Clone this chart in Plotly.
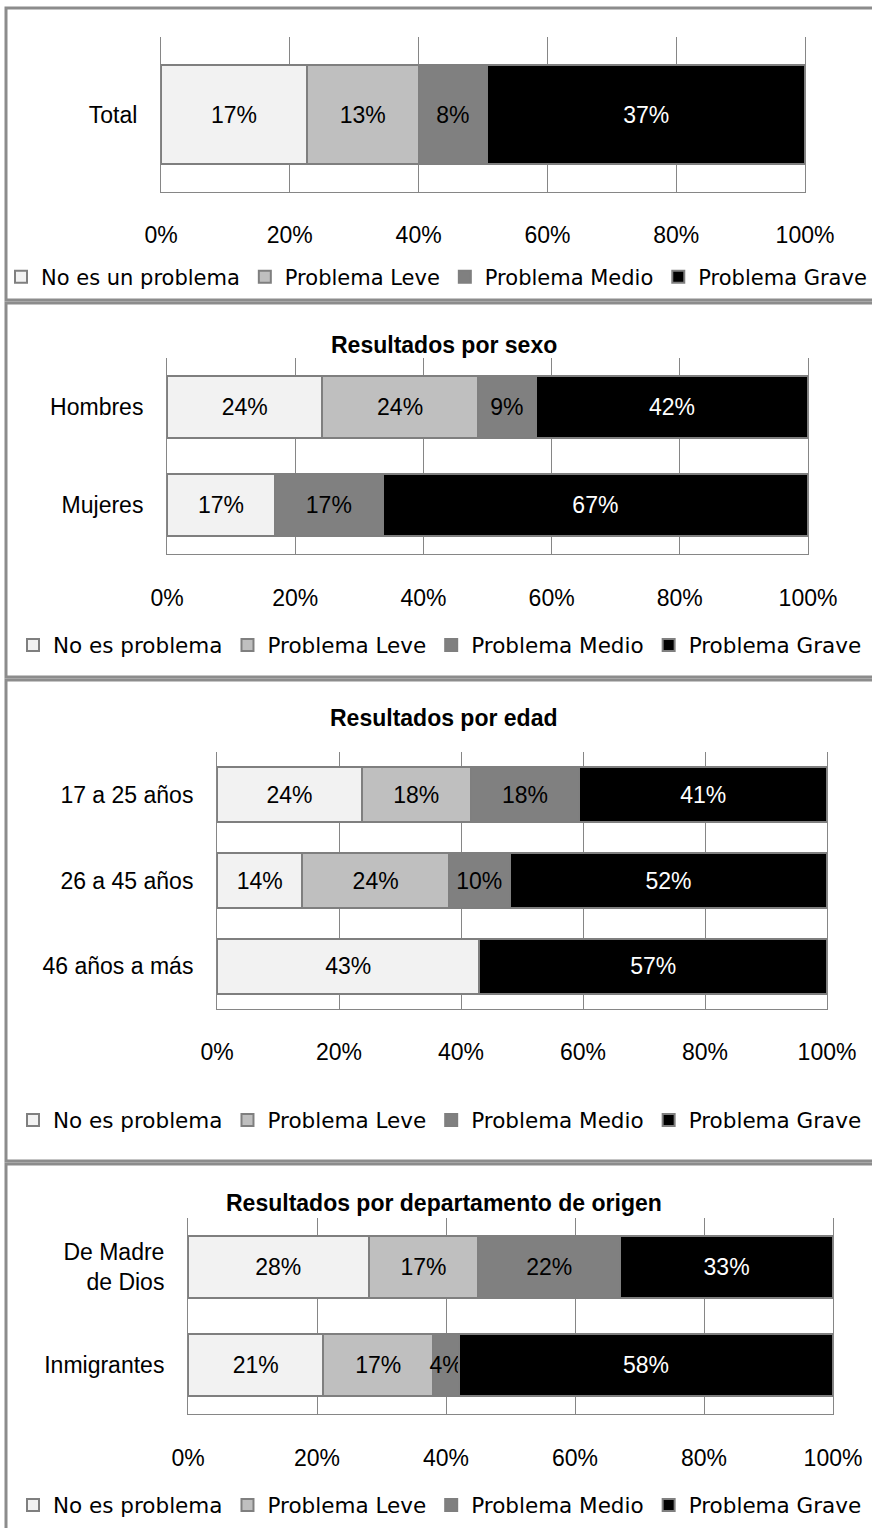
import plotly.graph_objects as go

# data
series = ["No es problema", "Problema Leve", "Problema Medio", "Problema Grave"]
series_total = ["No es un problema", "Problema Leve", "Problema Medio", "Problema Grave"]
colors = ["#f2f2f2", "#bfbfbf", "#808080", "#000000"]
text_colors = ["#000000", "#000000", "#000000", "#ffffff"]

total_cats = ["Total"]
total_vals = [[17], [13], [8], [37]]

sexo_cats = ["Hombres", "Mujeres"]
sexo_vals = [[24, 17], [24, 0], [9, 17], [42, 67]]

edad_cats = ["17 a 25 años", "26 a 45 años", "46 años a más"]
edad_vals = [[24, 14, 43], [18, 24, 0], [18, 10, 0], [41, 52, 57]]

origen_cats = ["De Madre<br>de Dios", "Inmigrantes"]
origen_vals = [[28, 21], [17, 17], [22, 4], [33, 58]]

titles = [None, "Resultados por sexo", "Resultados por edad",
          "Resultados por departamento de origen"]
x_ticks = [0, 20, 40, 60, 80, 100]
x_ticktext = ["0%", "20%", "40%", "60%", "80%", "100%"]

W, H = 872, 1528
FONT = "Liberation Sans, Arial, sans-serif"
LFONT = "DejaVu Sans, sans-serif"
GRID = "#868686"


def fx(x):
    return x / W


def fy(y):
    return 1 - y / H


# panel layout in pixels
panels = [
    dict(cats=total_cats, vals=total_vals, names=series_total,
         x0=161, x1=805, top=37, bot=192, tick_len=22, leg_x=12, leg_y=277,
         leg_size=21, title_y=None, box=(8, 300)),
    dict(cats=sexo_cats, vals=sexo_vals, names=series,
         x0=167, x1=808, top=358, bot=554, tick_len=23, leg_x=13, leg_y=645,
         leg_size=21.5, title_y=345, box=(303, 677)),
    dict(cats=edad_cats, vals=edad_vals, names=series,
         x0=217, x1=827, top=752, bot=1009, tick_len=22, leg_x=13, leg_y=1120,
         leg_size=21.5, title_y=718, box=(680, 1161)),
    dict(cats=origen_cats, vals=origen_vals, names=series,
         x0=188, x1=833, top=1218, bot=1414, tick_len=23, leg_x=13, leg_y=1505,
         leg_size=21.5, title_y=1203, box=(1164, 1545)),
]

fig = go.Figure()
layout = {}
shapes = []
annotations = []

for i, p in enumerate(panels, start=1):
    sfx = "" if i == 1 else str(i)
    leg = "legend" + sfx
    for k in range(4):
        vals = p["vals"][k]
        fig.add_trace(go.Bar(
            y=p["cats"], x=vals, orientation="h",
            name=p["names"][k],
            marker=dict(color=colors[k], line=dict(color="#7f7f7f", width=2)),
            text=[f"{v}%" if v > 0 else "" for v in vals],
            textposition="inside", insidetextanchor="middle", textangle=0,
            textfont=dict(family=FONT, size=23, color=text_colors[k]),
            width=0.64,
            xaxis="x" + sfx, yaxis="y" + sfx, legend=leg,
            hoverinfo="skip",
        ))

    layout["xaxis" + sfx] = dict(
        domain=[fx(p["x0"]), fx(p["x1"])], anchor="y" + sfx,
        range=[0, 100], tickmode="array", tickvals=x_ticks, ticktext=x_ticktext,
        showgrid=True, gridcolor=GRID, gridwidth=1, zeroline=False,
        showline=True, linecolor=GRID, linewidth=1,
        ticks="outside", ticklen=p["tick_len"], tickcolor="rgba(0,0,0,0)",
        tickfont=dict(family=FONT, size=23, color="#000000"),
        fixedrange=True, automargin=False,
    )
    layout["yaxis" + sfx] = dict(
        domain=[fy(p["bot"]), fy(p["top"])], anchor="x" + sfx,
        autorange="reversed", showgrid=False, zeroline=False,
        showline=True, mirror=True, linecolor=GRID, linewidth=1,
        ticks="outside", ticklen=18, tickcolor="rgba(0,0,0,0)",
        tickfont=dict(family=FONT, size=23, color="#000000"),
        fixedrange=True, automargin=False,
    )
    layout[leg] = dict(
        orientation="h", x=fx(p["leg_x"]), y=fy(p["leg_y"]),
        xanchor="left", yanchor="middle", traceorder="normal",
        font=dict(family=LFONT, size=p["leg_size"], color="#000000"),
        bgcolor="rgba(0,0,0,0)", itemwidth=30,
    )
    if p["title_y"] is not None:
        annotations.append(dict(
            text="<b>" + titles[i - 1] + "</b>", x=fx(444), y=fy(p["title_y"]),
            xref="paper", yref="paper", showarrow=False,
            xanchor="center", yanchor="middle",
            font=dict(family=FONT, size=23, color="#000000"),
        ))
    b0, b1 = p["box"]
    shapes.append(dict(
        type="rect", xref="paper", yref="paper",
        x0=fx(6), x1=fx(890), y0=fy(b1), y1=fy(b0),
        line=dict(color="#8c8c8c", width=3), fillcolor="rgba(0,0,0,0)",
    ))

fig.update_layout(
    width=W, height=H,
    margin=dict(l=0, r=0, t=0, b=0),
    barmode="stack", barnorm="percent",
    paper_bgcolor="white", plot_bgcolor="white",
    uniformtext=dict(minsize=23, mode="show"),
    shapes=shapes, annotations=annotations,
    showlegend=True,
    **layout,
)

fig.write_html("out.html", config={"displayModeBar": False},
               post_script="document.body.style.margin='0';document.body.style.overflow='hidden';")
